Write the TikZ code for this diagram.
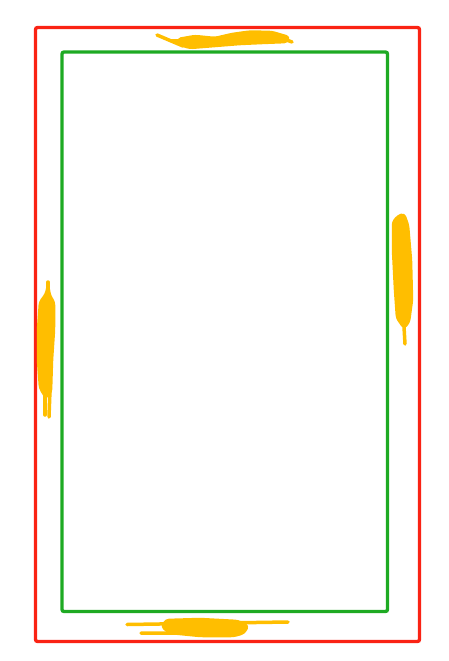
\documentclass[tikz,border=0pt]{standalone}
\definecolor{framered}{RGB}{250,35,20}
\definecolor{framegreen}{RGB}{30,170,35}
\definecolor{scribble}{RGB}{255,190,0}
\tikzset{
  outerframe/.style={draw=framered,line width=3.3pt,rounded corners=2pt},
  innerframe/.style={draw=framegreen,line width=3.3pt,rounded corners=2pt},
  scrib/.style={draw=scribble,fill=scribble,line width=2.5pt,line join=round,line cap=round,rounded corners=3pt},
  scribline/.style={draw=scribble,line width=3.5pt,line cap=round,line join=round}
}
\begin{document}
\begin{tikzpicture}[x=1pt,y=-1pt]
\useasboundingbox (0,0) rectangle (449,661);
\draw[outerframe] (35.5,27.5) rectangle (419.5,641.5);
\draw[innerframe] (62,52) rectangle (387.5,611.5);
% top scribble
\path[scrib] (178,39) -- (195,36) -- (215,38) -- (232,34) -- (250,31.5) -- (272,32) -- (289,37) -- (287,42) -- (262,43) -- (240,44) -- (215,46) -- (190,48) -- (180,45) -- cycle;
\draw[scribline] (157,35) -- (183,46) -- (172,41) -- (200,40);
\draw[scribline] (228,44) -- (270,34) -- (292,42);
% right scribble
\path[scrib] (393,222) -- (398,216) -- (404,214) -- (408,225) -- (411,260) -- (412,300) -- (409,322) -- (404,328) -- (397,318) -- (395,290) -- (393,250) -- cycle;
\draw[scribline] (403,310) -- (405,344);
\draw[scribline] (398,300) -- (399,318);
% left scribble
\path[scrib] (40,302) -- (46,294) -- (48,285) -- (50,296) -- (54,302) -- (54,330) -- (52,360) -- (51,392) -- (46,398) -- (40,388) -- (38,360) -- (38,330) -- cycle;
\draw[scribline] (48,282) -- (48,296);
\draw[scribline] (45,390) -- (45,415);
\draw[scribline] (50,390) -- (49,417);
% bottom scribble
\path[scrib] (166,620) -- (200,619) -- (238,621) -- (248,626) -- (244,633) -- (234,636) -- (200,636) -- (170,633) -- (162,627) -- cycle;
\draw[scribline] (127,624.5) -- (288,622);
\draw[scribline] (141,633) -- (240,633.5);
\end{tikzpicture}
\end{document}
